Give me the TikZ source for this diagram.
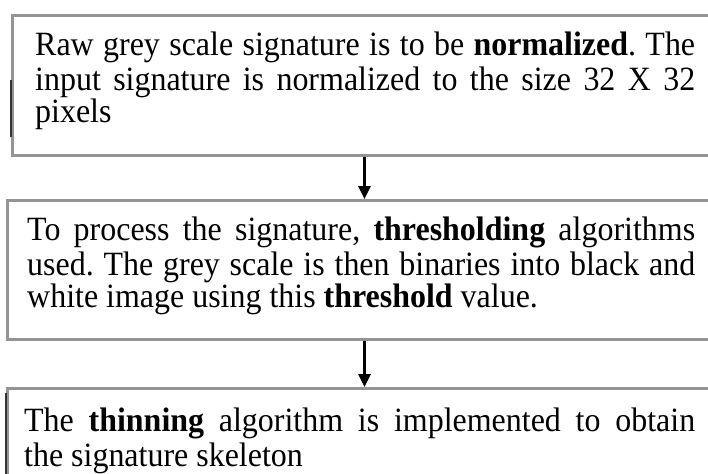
\documentclass[tikz,border=0pt]{standalone}
\usepackage{fontspec}
\setmainfont[FakeStretch=0.94]{Liberation Serif}
\usetikzlibrary{arrows.meta}
\frenchspacing
\begin{document}
\begin{tikzpicture}[x=1pt,y=-1pt,
  boxframe/.style={draw=black!42, line width=2.6pt, inner sep=0pt, anchor=north west},
  boxtext/.style={inner sep=0pt, anchor=north west, align=justify, text width=#1},
  darkedge/.style={draw=black!80, line width=2pt},
  flowarrow/.style={line width=2.6pt, -{Triangle[length=13pt,width=12pt]}}
]
\useasboundingbox (0,0) rectangle (708,473);
\clip (0,0) rectangle (708,473);
% boxes
\node[boxframe, minimum width=740pt, minimum height=140pt] (b1) at (11,14) {};
\node[boxframe, minimum width=740pt, minimum height=139pt] (b2) at (6,199) {};
\node[boxframe, minimum width=740pt, minimum height=120pt] (b3) at (6,387) {};
% darker parts of the left edges
\draw[darkedge] ([yshift=-66pt]b1.north west) -- ([yshift=-123pt]b1.north west);
\draw[darkedge] ([yshift=-6pt]b3.north west) -- ([yshift=-90pt]b3.north west);
% texts
\node[boxtext=660pt] (t1) at (35,29.1) {\frenchspacing\fontsize{34}{37}\selectfont\strut Raw grey scale signature is to be \textbf{normalized}. The\linebreak input signature is normalized to the size 32 X 32\linebreak pixels};
\node[boxtext=668pt] (t2) at (27,215.5) {\frenchspacing\fontsize{34}{35}\selectfont\strut To process the signature, \textbf{thresholding} algorithms\linebreak used. The grey scale is then binaries into black and\linebreak white image using this \textbf{threshold} value.};
\node[boxtext=671pt] (t3) at (24,406.5) {\frenchspacing\fontsize{34}{35}\selectfont\strut The \textbf{thinning} algorithm is implemented to obtain\linebreak the signature skeleton};
% arrows
\coordinate (ax) at (364.5,0);
\draw[flowarrow] (b1.south -| ax) -- (b2.north -| ax);
\draw[flowarrow] (b2.south -| ax) -- (b3.north -| ax);
\end{tikzpicture}
\end{document}
